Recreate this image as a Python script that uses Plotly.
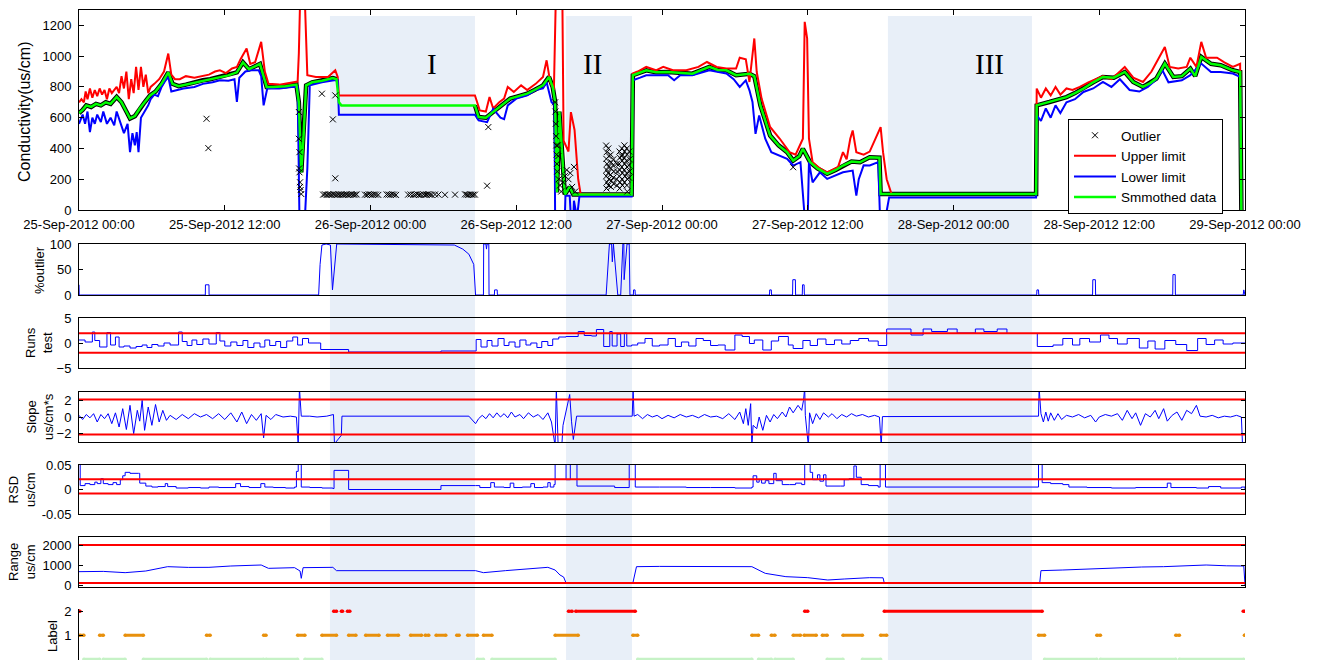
import numpy as np
import pandas as pd
import plotly.graph_objects as go

START = pd.Timestamp("2012-09-25 00:00")
END = pd.Timestamp("2012-09-29 00:00")

# ---------------- main panel data (hours from start, value in us/cm) ----------------
sm_t = [0.0,0.3,0.6,1.0,1.4,1.8,2.2,2.6,3.1,3.5,3.9,4.2,4.6,5.0,5.4,5.85,6.3,6.8,7.35,7.7,
        8.2,8.8,9.5,10.2,10.8,11.6,12.3,13.0,13.5,14.0,14.5,14.9,15.45,16.0,17.0,17.9,18.1,18.3,18.5,18.7,
        19.2,20.0,20.9,21.2,21.4,21.6,32.6,32.9,33.5,34.1,34.8,35.5,36.2,36.9,37.5,38.2,38.7,39.0,39.2,39.35,
        39.55,39.8,40.0,40.4,40.7,45.5,45.6,46.7,47.5,48.5,49.5,50.5,51.9,52.6,53.3,54.1,55.2,55.6,56.1,56.9,
        57.6,58.3,58.8,59.3,59.6,60.2,60.8,61.6,62.3,62.9,63.6,64.3,65.1,65.9,66.0,78.8,78.85,79.9,80.6,81.3,
        82.0,82.7,83.5,84.3,85.2,86.1,86.8,87.6,88.2,88.7,89.4,90.1,90.8,91.5,91.9,92.4,93.2,94.0,95.0,95.6,
        95.7]
sm_v = [630,650,680,670,690,680,700,690,735,700,640,595,610,660,700,745,770,820,895,820,
        805,815,830,843,850,865,875,895,960,915,935,950,800,800,805,815,700,245,500,810,
        830,840,858,850,700,680,680,604,600,636,680,724,740,756,780,810,865,800,702,115,
        640,300,100,150,100,100,876,908,895,897,890,886,930,910,908,876,886,870,680,484,
        420,376,321,350,398,310,270,235,260,289,315,310,343,340,104,104,680,702,720,734,
        760,789,830,865,860,897,832,800,825,854,952,865,870,919,870,995,950,941,908,897,
        0]

up_t = [0.0,0.2,0.4,0.55,0.7,0.9,1.1,1.3,1.5,1.7, 1.9,2.1,2.3,2.5,2.7,2.9,3.1,3.3,3.5,3.7,
        3.9,4.1,4.3,4.5,4.7,4.9,5.1,5.3,5.5,5.7, 5.9,6.2,6.6,7.0,7.35,7.6,7.9,8.3,8.8,9.5,
        10.2,10.7,11.2,11.6,12.1,12.6,13.0,13.3,13.8,14.1, 14.5,15.0,15.3,15.6,16.5,17.5,18.0,18.1,18.2,18.6,
        18.8,19.5,20.5,21.1,21.3,21.4,32.6,33.0,33.5,33.8, 34.1,34.6,35.0,35.3,35.8,36.4,36.9,37.6,38.2,38.5,
        38.8,39.1,39.25,39.8,39.9,40.3,40.5,40.8,41.1,41.3, 45.5,45.6,46.0,46.7,47.5,48.1,48.9,50.0,51.0,51.7,
        52.5,53.3,54.1,54.4,54.9,55.2,55.6,55.8,56.2,56.9, 57.7,58.5,59.0,59.6,59.75,59.95,60.1,60.4,61.0,61.6,
        62.5,62.9,63.2,63.5,63.7,64.0,64.6,65.1,66.0,66.2, 66.5,66.9,78.8,78.85,79.2,79.6,80.0,80.4,80.8,81.3,
        81.8,82.4,83.1,84.3,85.0,85.7,86.1,86.8,87.6,88.3, 88.7,89.0,89.4,89.8,90.5,91.2,91.5,92.0,92.4,92.8,
        93.7,94.3,95.0,95.6,95.7]
up_v = [700,720,700,770,720,790,730,780,740,790, 750,780,720,790,760,780,800,760,870,790,
        900,720,850,760,930,780,930,800,880,760, 800,820,850,900,1017,880,850,850,870,860,
        870,880,900,908,890,920,930,980,1050,950, 960,1093,900,821,815,830,835,1017,1350,1350,
        876,865,865,908,865,745,745,647,640,734, 660,700,724,800,767,810,780,820,865,973,
        830,780,1350,1350,450,380,636,520,200,104, 104,887,900,930,908,930,908,908,930,962,
        930,920,920,990,980,832,1115,897,724,540, 463,376,360,463,1223,1115,463,311,270,245,
        280,376,330,463,517,376,360,380,539,376, 200,104,104,789,730,790,745,800,750,790,
        780,800,830,870,850,900,930,860,832,900, 960,1000,1060,930,920,930,990,930,1093,990,
        990,960,930,950,0]

lo_t = [0.0,0.3,0.5,0.7,0.9,1.1,1.3,1.5,1.8,2.0, 2.3,2.6,2.9,3.1,3.4,3.7,4.0,4.2,4.4,4.6,
        4.75,4.9,5.1,5.4,5.7,5.9,6.2,6.5,6.8,7.1, 7.35,7.6,8.0,8.6,9.5,10.2,11.0,11.6,12.3,12.8,
        13.0,13.2,13.7,14.2,14.8,15.0,15.2,15.5,16.5,17.5, 18.0,18.15,18.6,18.8,19.0,20.0,21.0,21.3,21.4,32.6,
        32.9,33.6,34.1,34.7,35.0,35.3,36.0,36.9,37.6,38.2, 38.5,38.9,39.15,39.2,40.0,40.05,40.4,40.5,40.7,40.75,
        41.0,41.2,45.5,45.6,46.2,46.7,47.5,48.5,49.0,49.5, 50.5,51.9,53.3,53.9,54.4,54.9,55.2,55.45,55.7,56.0,
        56.5,57.0,58.3,58.8,59.4,59.75,60.0,60.1,60.4,61.0, 61.6,62.9,63.7,64.0,64.2,64.6,65.1,65.8,65.95,66.4,
        66.7,78.8,78.85,79.2,79.6,80.0,80.4,80.8,81.3,82.0, 82.7,83.5,84.3,85.0,85.7,86.5,87.3,88.0,88.7,89.2,
        89.7,90.8,91.5,92.4,93.2,94.0,95.0,95.6,95.7]
lo_v = [560,620,560,640,506,600,560,620,571,640, 560,600,550,640,570,500,560,376,500,420,
        506,376,600,640,680,720,750,740,800,840, 865,770,780,790,800,820,830,843,840,850,
        702,860,900,908,908,870,680,789,789,800, 800,-50,-50,270,810,830,843,843,619,619,
        582,571,658,600,590,680,724,745,780,790, 830,702,680,-50,-50,93,93,-50,-50,60,
        -50,88,88,843,860,876,876,876,843,876, 876,908,887,850,800,843,778,702,495,615,
        463,376,332,289,311,-50,-50,311,180,245, 202,245,256,93,200,290,289,311,-50,-50,
        82,82,615,580,660,600,680,630,700,720, 767,790,832,800,850,780,770,800,850,908,
        830,843,876,952,897,897,887,865,0]

# isolated outliers
iso_t = [10.5,10.65,20.0,20.9,21.1,21.1,33.6,33.7,58.8]
iso_v = [593,402,756,589,745,206,158,539,278]
d1_t = [18.1,18.1,18.15,18.12,18.15,18.2,18.2,18.25,18.3]
d1_v = [637,463,376,270,245,180,150,130,104]
row_t = [20.10,20.25,20.39,20.52,20.66,20.80,20.94,21.07,21.21,21.35,21.49,21.62,21.76,21.90,22.04,22.17,22.31,22.45,22.59,22.72,22.86,
         23.55,23.70,23.85,24.00,24.15,24.30,24.45,24.64,
         25.33,25.48,25.63,25.78,25.93,26.10,
         27.10,27.30,27.53,27.70,27.85,28.00,28.15,28.35,28.50,28.62,28.76,28.90,29.04,
         29.31,29.59, 30.13, 30.96,
         31.78,31.92,32.05,32.19,32.33,32.46,32.60]
row_v = [100,102,98,101,100,99,103,100,98,101,100,102,99,100,101,98,100,103,99,100,101,
         100,98,102,100,99,101,100,98,
         101,100,99,102,100,98,
         100,101,99,100,102,98,100,101,99,100,103,100,98,
         101,100, 99, 100,
         102,100,98,101,100,99,100]
d2_t = [39.2,39.22,39.25,39.28,39.3,39.33,39.35,39.38,39.42,39.46,39.5,39.6,39.7,39.85,40.0,40.15,40.3,40.45,40.6,40.75,40.85]
d2_v = [700,640,560,480,420,360,300,250,420,350,200,160,120,180,220,260,200,240,150,280,120]
cl_t = [43.40,43.45,43.42,43.47,43.44,43.41,43.46,43.43, 43.58,43.62,43.60,43.57,43.63,43.59,
        43.78,43.82,43.80,43.77,43.83,43.79, 44.00,43.97,44.03,43.99,44.02, 44.28,44.31,44.26,44.30,
        44.50,44.53,44.48,44.52,44.49,44.55,44.51, 44.70,44.73,44.68,44.72,44.69,44.75,44.71,44.74,
        44.90,44.93,44.88,44.92,44.89,44.95,44.91, 45.10,45.13,45.08,45.12,45.09,45.15,45.11,45.14,
        45.30,45.33,45.28,45.32,45.29]
cl_v = [419,376,332,300,260,220,180,140, 400,350,280,240,200,160,
        360,310,270,230,190,150, 330,290,250,210,170, 300,250,200,160,
        380,340,300,260,220,180,140, 400,360,350,320,280,240,200,160,
        420,380,340,300,260,220,180, 400,360,320,280,240,200,160,120,
        380,330,290,250,210]

# ---------------- lower panels ----------------
po_t = [0.0,0.02,0.1, 10.4,10.41,10.7,10.71, 19.73,19.85,20.0,20.35,20.7,20.87,21.04,21.22,
        30.9,31.6,32.1,32.5,32.65, 33.3,33.32,33.5,33.55,33.6,33.74,33.76, 34.2,34.22,34.43,34.45,
        43.4,43.67,43.85,43.91,44.0,44.26,44.36, 44.6,44.78,44.86,44.88,45.12,45.3,45.36,
        45.64,45.66,45.78,45.8, 56.85,56.87,57.0,57.02, 58.75,58.77,58.98,59.0, 59.55,59.57,59.7,59.72,
        78.85,78.87,79.0,79.02, 83.45,83.47,83.68,83.7, 90.05,90.07,90.25,90.27, 95.85,95.9,96.0]
po_v = [20,0,0, 0,20,20,0, 0,60,98,100,98,10,60,100,
        98,90,80,60,0, 0,100,100,90,100,100,0, 0,10,10,0,
        0,100,100,65,100,20,0, 0,100,100,30,100,100,0,
        0,10,10,0, 0,10,10,0, 0,30,30,0, 0,20,20,0,
        0,10,10,0, 0,30,30,0, 0,40,40,0, 0,10,0]

ru_t = [0,0.5,1.1,1.3,1.7,2.3,2.6,3.0,3.3,3.7, 4.2,4.7,5.2,5.6,6.0,6.5,7.0,7.5,8.2,8.5,
        8.9,9.3,9.7,10.2,10.7,11.3,11.6,12.0,12.5,13.0, 13.5,13.9,14.4,14.9,15.3,15.7,16.2,16.6,17.1,17.6,
        18.0,18.4,18.9,19.6,19.9,22.2,29.8,32.7,33.1,33.6, 34.0,34.5,35.0,35.4,35.9,36.3,36.8,37.2,37.7,38.1,
        38.6,39.0,39.5,40.1,41.1,41.6,42.2,42.6,43.2,43.7, 43.9,44.3,44.6,44.9,45.1,45.5,46.0,46.6,47.2,47.8,
        48.5,49.1,49.6,50.2,50.8,51.4,52.0,52.6,53.2,54.0, 54.6,55.2,55.6,56.3,57.0,57.6,58.4,58.8,59.6,60.2,
        60.8,61.5,62.2,62.8,63.5,64.2,65.0,65.8,66.5,68.5, 69.5,70.2,71.5,72.3,73.8,74.5,75.6,76.4,78.9,80.2,
        81.0,81.8,82.4,83.2,84.1,84.8,85.5,86.3,87.3,88.0, 88.6,89.4,90.3,91.2,92.1,92.8,93.5,94.2,95.0,96.0]
ru_v = [0.6,0.2,2.2,0.5,-0.8,2.1,-0.4,1.2,-0.8,-0.6, -1.0,-0.7,-0.4,-0.9,-0.3,-0.6,0.0,-0.4,2.2,0.3,
        -0.5,0.6,-0.3,0.8,-0.2,2.1,0.4,-0.6,0.2,-0.5, 0.5,-0.9,0.0,-0.8,0.6,-0.5,0.3,-0.9,0.4,1.2,
        -0.4,0.9,0.0,0.0,-1.3,-1.8,-1.6,0.7,-0.8,0.5, -0.6,0.9,-0.5,0.2,-0.8,0.6,-0.4,0.0,-0.9,0.3,
        -0.5,0.8,1.2,1.3,2.3,1.5,1.4,2.7,-0.7,2.3, -0.6,1.8,-0.7,2.0,-0.6,-0.4,0.0,0.9,-0.6,-0.4,
        0.9,-0.7,0.2,-0.6,0.9,0.5,-0.5,-0.4,-1.4,1.6, 1.3,-0.1,0.6,-1.4,0.4,1.3,-0.4,-1.1,0.5,-0.5,
        0.8,-0.3,0.6,-0.2,0.5,0.9,0.4,-0.5,2.8,1.6, 2.8,2.3,2.8,2.0,2.8,2.3,2.8,1.9,-0.7,-0.4,
        0.9,-0.4,0.9,0.2,1.6,0.9,-0.2,0.9,-1.0,0.4, -1.2,0.5,-0.3,-1.5,0.9,-0.3,0.6,-0.2,0.0,0.0]

sl_t = [0,0.3,0.6,0.9,1.2,1.5,1.8,2.1,2.4,2.7, 3.0,3.3,3.6,3.9,4.2,4.5,4.8,5.0,5.2,5.4,
        5.7,6.0,6.3,6.6,6.9,7.2,7.5,8.0,8.5,9.0, 9.5,10.0,10.5,11.0,11.5,12.0,12.5,13.0,13.4,13.8,
        14.2,14.6,15.0,15.2,15.4,15.8,16.2,16.8,17.4,17.9, 18.05,18.15,18.3,19.0,19.6,20.4,20.95,21.04,21.1,21.6,
        21.65,32.1,32.65,32.9,33.2,33.5,33.8,34.1,34.4,34.7, 35.0,35.3,35.6,35.9,36.3,36.6,37.0,37.4,37.8,38.2,
        38.6,38.9,39.2,39.3,39.45,39.75,39.85,40.4,40.55,40.7, 40.97,45.55,45.62,45.7,46.0,46.4,46.8,47.2,47.6,48.0,
        48.5,49.0,49.5,50.0,50.5,51.0,51.5,52.0,52.5,53.0, 53.5,54.0,54.4,54.7,54.9,55.1,55.3,55.4,55.5,55.8,
        56.0,56.3,56.6,56.9,57.2,57.5,57.9,58.2,58.5,58.8, 59.2,59.5,59.65,59.75,59.8,60.05,60.15,60.4,60.7,61.0,
        61.3,61.7,62.0,62.4,62.8,63.2,63.6,64.0,64.5,65.0, 65.5,65.9,66.05,66.15,79.0,79.05,79.2,79.4,79.6,79.8,
        80.0,80.3,80.6,80.9,81.3,81.8,82.3,82.8,83.3,83.7, 84.0,84.5,85.0,85.5,85.9,86.3,86.7,87.0,87.4,87.8,
        88.2,88.6,88.9,89.3,89.6,90.0,90.4,90.8,91.2,91.6, 92.0,92.3,92.8,93.3,93.8,94.3,94.8,95.3,95.7,95.8,
        96.0]
sl_v = [0.2,-0.3,0.3,-0.1,0.4,-0.6,0.3,-0.2,0.4,-0.8, 0.5,-1.2,1.0,-1.5,1.4,-2.0,0.8,-0.5,2.0,-1.6,
        1.2,-1.0,1.5,-0.6,0.8,-0.4,0.2,-0.3,0.3,-0.2, 0.4,0.0,0.3,-0.2,0.4,-0.3,0.5,-0.6,0.6,-0.8,
        0.3,-0.4,0.4,-2.5,0.2,-0.3,0.3,0.0,0.1,0.0, -3.5,3.5,0.1,0.1,0.0,0.1,0.3,-3.5,-3.1,-2.2,
        0.1,0.1,-0.8,-0.2,0.2,-0.2,0.4,-0.1,0.5,0.0, 0.4,-0.1,0.6,0.0,0.3,-0.2,0.5,0.0,0.3,-0.3,
        0.5,-0.6,-3.5,3.5,-3.5,-3.5,-1.0,2.7,-0.5,-2.7, 0.1,0.1,3.5,0.1,0.3,-0.2,0.3,0.0,0.2,-0.2,
        0.2,-0.1,0.3,0.0,0.2,-0.1,0.3,0.0,0.1,-0.2, 0.4,-0.3,0.6,-0.8,1.0,-1.0,1.6,-3.5,-1.0,-1.4,
        0.0,-1.6,0.2,-0.6,0.3,-0.2,0.6,0.0,1.2,0.5, 1.4,0.8,2.0,3.5,0.2,-3.5,0.5,-0.8,0.4,-0.3,
        0.5,0.0,0.4,-0.2,0.3,0.0,0.4,0.1,0.3,0.0, 0.2,0.0,-3.5,0.05,0.1,3.5,0.4,-0.6,0.6,-0.5,
        0.5,-0.4,0.4,-0.3,0.2,0.0,0.3,-0.1,0.2,-0.6, 0.0,0.3,0.1,0.4,-0.4,0.8,-0.2,0.5,-1.0,0.4,
        0.0,0.8,-0.2,1.0,-0.5,0.2,0.6,-0.4,0.8,0.4, 1.4,0.1,0.0,0.2,-0.1,0.1,0.0,0.2,0.0,-3.5,
        -3.5]

rs_t = [0,0.1,0.5,0.9,1.3,1.5,1.8,2.0,2.4,2.8, 3.1,3.4,3.6,3.8,4.2,4.9,5.0,5.5,6.0,6.5,
        7.1,7.3,8.0,9.0,10.0,10.7,11.5,12.9,13.3,14.0, 14.97,15.3,16.0,17.0,17.75,17.9,18.05,18.3,19.0,20.0,
        20.9,21.0,22.2,29.8,32.65,33.0,33.9,34.2,35.0,35.5, 35.8,36.5,37.2,37.5,38.2,38.6,38.8,39.1,39.2,40.1,
        40.45,41.0,44.1,45.3,45.8,47.8,50.0,52.0,54.0,55.4, 55.5,55.8,56.0,56.2,56.5,56.8,57.2,57.4,57.9,58.5,
        59.0,59.5,59.75,60.2,60.4,60.8,61.0,61.3,61.5,62.7, 63.0,63.4,63.8,64.0,64.4,65.0,65.8,65.96,66.4,79.0,
        79.3,80.0,81.0,81.5,83.0,85.0,87.0,89.6,89.9,92.0, 93.0,94.0,95.7,96.0]
rs_v = [0.06,0.008,0.012,0.01,0.015,0.012,0.022,0.012,0.01,0.014, 0.01,0.02,0.028,0.035,0.033,0.033,0.013,0.007,0.005,0.006,
        0.012,0.006,0.003,0.004,0.003,0.005,0.004,0.012,0.006,0.004, 0.012,0.005,0.004,0.003,0.005,0.037,0.06,0.005,0.004,0.003,
        0.002,0.039,0.0,0.008,0.008,0.004,0.014,0.005,0.004,0.013, 0.004,0.005,0.012,0.004,0.005,0.014,0.005,0.01,0.06,0.02,
        0.06,0.007,0.004,0.06,0.005,0.005,0.004,0.004,0.003,0.005, 0.028,0.015,0.02,0.013,0.018,0.012,0.033,0.018,0.01,0.01,
        0.013,0.01,0.06,0.035,0.02,0.03,0.017,0.03,0.007,0.007, 0.02,0.022,0.048,0.025,0.01,0.008,0.005,0.06,0.005,0.06,
        0.014,0.012,0.01,0.005,0.004,0.003,0.004,0.013,0.004,0.003, 0.006,0.003,0.005,0.0]

rg_t = [0,2.0,3.8,5.5,7.3,9.0,10.7,12.5,15.0,15.6, 17.75,18.2,18.3,18.45,20.9,21.2,32.65,33.3,35.1,36.9,
        38.6,39.2,39.6,39.9,40.1,45.6,45.9,47.8,52.0,55.4, 56.5,58.2,60.0,61.65,63.0,65.1,66.2,66.3,79.1,79.2,
        81.0,83.0,85.8,87.5,89.3,91.0,92.8,94.5,95.9,96.0]
rg_v = [667,680,617,700,917,880,883,950,1000,833, 867,700,333,867,883,717,717,617,717,800,
        883,750,500,400,100,100,917,930,917,917, 583,417,367,250,300,367,360,100,100,717,
        750,800,883,900,917,950,1000,960,950,0]

# thresholds
runs_lim = [1.96, -1.96]
slope_lim = [2.1, -2.1]
rsd_lim = [0.021, -0.008]
range_lim = [2000, 100]

# label segments (start/end hours) per label value
l2_s = [0.0,20.97,21.6,22.1,40.3,40.9,59.75,66.3,95.85]
l2_e = [0.08,21.2,21.7,22.3,40.6,45.8,60.0,79.3,96.0]
l1_s = [0.08,1.7,3.8,10.5,15.2,18.0,20.0,22.2,23.6,25.4,27.3,28.5,29.4,31.1,32.0,33.3,39.2,45.6,55.4,57.0,
        58.8,59.7,61.2,62.9,66.0,79.0,83.8,90.3,95.95]
l1_e = [0.4,2.0,5.3,10.8,15.4,18.6,21.2,22.8,24.7,26.3,28.2,28.8,30.2,31.3,32.8,34.0,41.1,46.0,55.95,57.3,
        59.4,60.7,61.6,64.5,66.5,79.5,84.1,90.6,96.0]
l0_s = [0.4,2.0,5.3,10.8,15.4,18.6,32.8,34.0,46.0,55.95,57.3,61.6,64.5,79.5,84.1,90.6]
l0_e = [1.7,3.8,10.5,15.2,18.0,20.0,33.3,39.2,55.4,57.0,58.8,62.9,66.0,83.8,90.3,95.9]

# shaded regions
reg_names = ["I", "II", "III"]
reg_start = [20.66, 40.1, 66.6]
reg_end = [32.6, 45.53, 78.46]
reg_label_t = [29.06, 42.3, 75.0]

for a, b in [(sm_t, sm_v), (up_t, up_v), (lo_t, lo_v), (row_t, row_v), (cl_t, cl_v), (d2_t, d2_v),
             (po_t, po_v), (ru_t, ru_v), (sl_t, sl_v), (rs_t, rs_v), (rg_t, rg_v), (l1_s, l1_e), (l0_s, l0_e), (l2_s, l2_e)]:
    assert len(a) == len(b), (len(a), len(b))


def T(hours):
    out = []
    for h in hours:
        out.append(None if h is None else (START + pd.Timedelta(hours=h)).strftime("%Y-%m-%d %H:%M:%S"))
    return out


def segs(starts, ends, level):
    xs, ys = [], []
    for s, e in zip(starts, ends):
        xs += [s, e, None]
        ys += [level, level, None]
    return T(xs), ys


W, H = 1318, 660
XL, XR = 79 / W, 1245 / W


def py(p):
    return 1 - p / H


FONT = "Liberation Sans, Arial, sans-serif"
BLUE = "#0000FF"
RED = "#FF0000"

fig = go.Figure()

# black band of measured data (outside the flat outlier-filled span of region I)
band_v = [None if (reg_start[0] + 0.7 < t < reg_end[0]) else v for t, v in zip(sm_t, sm_v)]
fig.add_trace(go.Scatter(x=T(sm_t), y=band_v, mode="lines", line=dict(color="black", width=4.5),
                         showlegend=False, hoverinfo="skip", xaxis="x", yaxis="y"))
fig.add_trace(go.Scatter(x=T(up_t), y=up_v, mode="lines", name="Upper limit", legendrank=2,
                         line=dict(color=RED, width=2), xaxis="x", yaxis="y"))
fig.add_trace(go.Scatter(x=T(lo_t), y=lo_v, mode="lines", name="Lower limit", legendrank=3,
                         line=dict(color=BLUE, width=2), xaxis="x", yaxis="y"))
fig.add_trace(go.Scatter(x=T(sm_t), y=sm_v, mode="lines", name="Smmothed data", legendrank=4,
                         line=dict(color="#00FF00", width=2.5), xaxis="x", yaxis="y"))
out_t = iso_t + d1_t + row_t + d2_t + cl_t
out_v = iso_v + d1_v + row_v + d2_v + cl_v
fig.add_trace(go.Scatter(x=T(out_t), y=out_v, mode="markers", name="Outlier", legendrank=1,
                         marker=dict(symbol="x-thin", size=6, color="black",
                                     line=dict(color="black", width=1)),
                         xaxis="x", yaxis="y"))

# %outlier
fig.add_trace(go.Scatter(x=T(po_t), y=po_v, mode="lines", line=dict(color=BLUE, width=1),
                         showlegend=False, xaxis="x2", yaxis="y2"))
# runs test
fig.add_trace(go.Scatter(x=T(ru_t), y=ru_v, mode="lines", line=dict(color=BLUE, width=1, shape="hv"),
                         showlegend=False, xaxis="x3", yaxis="y3"))
# slope
fig.add_trace(go.Scatter(x=T(sl_t), y=sl_v, mode="lines", line=dict(color=BLUE, width=1),
                         showlegend=False, xaxis="x4", yaxis="y4"))
# rsd
fig.add_trace(go.Scatter(x=T(rs_t), y=rs_v, mode="lines", line=dict(color=BLUE, width=1, shape="hv"),
                         showlegend=False, xaxis="x5", yaxis="y5"))
# range
fig.add_trace(go.Scatter(x=T(rg_t), y=rg_v, mode="lines", line=dict(color=BLUE, width=1),
                         showlegend=False, xaxis="x6", yaxis="y6"))

for lims, ax in [(runs_lim, 3), (slope_lim, 4), (rsd_lim, 5), (range_lim, 6)]:
    for v in lims:
        fig.add_trace(go.Scatter(x=[START, END], y=[v, v], mode="lines", line=dict(color=RED, width=2),
                                 showlegend=False, hoverinfo="skip", xaxis=f"x{ax}", yaxis=f"y{ax}"))

# labels
for (s, e, lev, col) in [(l0_s, l0_e, 0, "#C6F2C6"), (l1_s, l1_e, 1, "#E8900C"), (l2_s, l2_e, 2, RED)]:
    xs, ys = segs(s, e, lev)
    fig.add_trace(go.Scatter(x=xs, y=ys, mode="lines+markers", line=dict(color=col, width=3),
                             marker=dict(color=col, size=3.5), showlegend=False, xaxis="x7", yaxis="y7"))

# ---------------- layout ----------------
panels = [(10, 210), (244, 295), (318, 368), (392, 442), (465, 514), (537, 587), (608.5, 660)]
yranges = [[0, 1300], [0, 100], [-5, 5], [-3, 3], [-0.05, 0.05], [-100, 2400], [-0.03, 2.12]]
ytickvals = [[0, 200, 400, 600, 800, 1000, 1200], [0, 50, 100], [-5, 0, 5], [-2, 0, 2],
             [-0.05, 0, 0.05], [0, 1000, 2000], [1, 2]]
yticktext = [None, None, None, None, ["-0.05", "0", "0.05"], None, None]

layout = dict(
    width=W, height=H, margin=dict(l=0, r=0, t=0, b=0, autoexpand=False),
    paper_bgcolor="white", plot_bgcolor="rgba(0,0,0,0)",
    font=dict(family=FONT, size=13, color="black"),
    showlegend=True,
    legend=dict(x=1068 / W, y=py(119), xanchor="left", yanchor="top", bgcolor="white",
                bordercolor="black", borderwidth=1, font=dict(size=13.5, family=FONT),
                tracegroupgap=0, itemwidth=42),
)

for i, ((top, bot), yr, tv, tt) in enumerate(zip(panels, yranges, ytickvals, yticktext)):
    n = "" if i == 0 else str(i + 1)
    xa = dict(domain=[XL, XR], anchor=f"y{n}", type="date", range=[START, END], automargin=False,
              showgrid=False, zeroline=False, linecolor="black", linewidth=1)
    if i == 0:
        xa.update(showline=True, mirror="ticks", ticks="inside", ticklen=5, tickcolor="black",
                  tick0=START, dtick=12 * 3600 * 1000, tickformat="%d-%b-%Y %H:%M",
                  tickfont=dict(size=13), ticklabelstandoff=2)
    elif i < 6:
        xa.update(showline=True, mirror=True, ticks="", showticklabels=False)
    else:
        xa.update(showline=False, ticks="", showticklabels=False)
    ya = dict(domain=[py(bot), py(top)], anchor=f"x{n}", range=yr, tickvals=tv, automargin=False,
              showgrid=False, zeroline=False, showline=True, linecolor="black", linewidth=1,
              ticks="inside", ticklen=5 if i == 0 else 4, tickcolor="black",
              mirror="ticks" if i < 6 else False, tickfont=dict(size=13), ticklabelstandoff=4)
    if tt is not None:
        ya["ticktext"] = tt
    layout[f"xaxis{n}"] = xa
    layout[f"yaxis{n}"] = ya

shapes = []
annotations = []
for name, s, e, lt in zip(reg_names, reg_start, reg_end, reg_label_t):
    shapes.append(dict(type="rect", xref="x", yref="paper", x0=T([s])[0], x1=T([e])[0],
                       y0=0, y1=py(16), fillcolor="#E8EFF8", line=dict(width=0), layer="below"))
    annotations.append(dict(text=name, xref="x", yref="paper", x=T([lt])[0], y=py(46),
                            showarrow=False, font=dict(family="Liberation Serif, Times New Roman, serif",
                                                       size=29, color="black")))

ytitles = [("Conductivity(us/cm)", 25, 112, 16), ("%outlier", 39, 270, 13), ("Runs<br>test", 39, 343, 13),
           ("Slope<br>us/cm*s", 40, 417, 13), ("RSD<br>us/cm", 22, 490, 13), ("Range<br>us/cm", 22, 562, 13),
           ("Label", 52, 636, 13)]
for txt, x, y, fs in ytitles:
    annotations.append(dict(text=txt, xref="paper", yref="paper", x=x / W, y=py(y), textangle=-90,
                            showarrow=False, xanchor="center", yanchor="middle",
                            font=dict(family=FONT, size=fs, color="black")))

layout["shapes"] = shapes
layout["annotations"] = annotations
fig.update_layout(**layout)

fig.write_html("out.html")
